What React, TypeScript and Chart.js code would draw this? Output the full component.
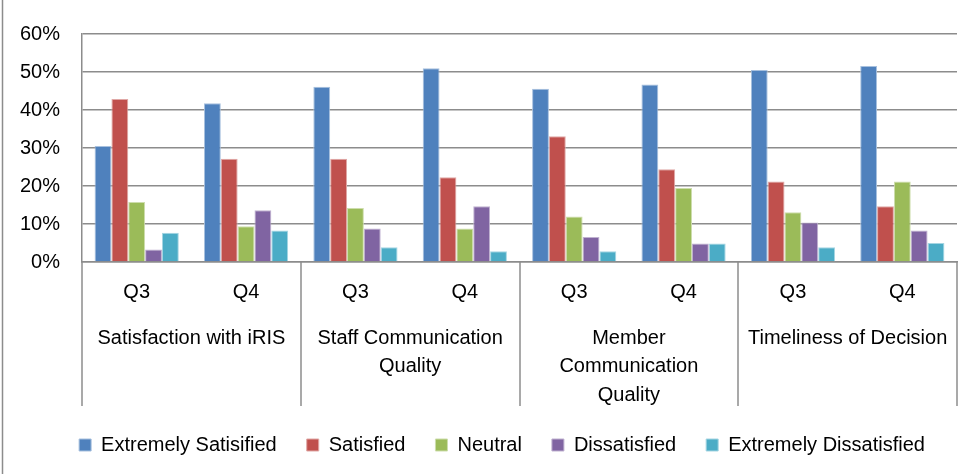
import React, { useEffect, useRef } from "react";
import { Chart, registerables } from "chart.js";

Chart.register(...registerables);

const quarters = ["Q3", "Q4", "Q3", "Q4", "Q3", "Q4", "Q3", "Q4"];
const groupLabels: string[][] = [
  ["Satisfaction with iRIS"],
  ["Staff Communication", "Quality"],
  ["Member", "Communication", "Quality"],
  ["Timeliness of Decision"],
];
const seriesNames = [
  "Extremely Satisified",
  "Satisfied",
  "Neutral",
  "Dissatisfied",
  "Extremely Dissatisfied",
];
const extremelySatisfied = [30.5, 41.8, 46.1, 51.0, 45.6, 46.7, 50.5, 51.6];
const satisfied = [42.9, 27.2, 27.2, 22.3, 33.1, 24.4, 21.2, 14.7];
const neutral = [15.8, 9.4, 14.2, 8.8, 12.0, 19.5, 13.1, 21.2];
const dissatisfied = [3.3, 13.6, 8.8, 14.7, 6.6, 4.9, 10.4, 8.3];
const extremelyDissatisfied = [7.7, 8.3, 3.9, 2.8, 2.8, 4.9, 3.9, 5.0];
const yTicks = [0, 10, 20, 30, 40, 50, 60];

const colors = ["#4F81BD", "#C0504D", "#9BBB59", "#8064A2", "#4BACC6"];
const borders = ["#A7C0DE", "#E0A8A6", "#CDDDAC", "#BFB1D0", "#A5D5E2"];
const GRID = "#8c8c8c";
const FONT = "'Liberation Sans', Arial, sans-serif";

export default function App() {
  const ref = useRef<HTMLCanvasElement | null>(null);

  useEffect(() => {
    document.body.style.margin = "0";
    const canvas = ref.current;
    if (!canvas) return;
    const values = [extremelySatisfied, satisfied, neutral, dissatisfied, extremelyDissatisfied];

    const groupPlugin = {
      id: "groupPlugin",
      afterLayout(chart: any) {
        if (chart.legend) chart.legend.left = 47;
      },
      afterDraw(chart: any) {
        const { ctx, chartArea } = chart;
        const x = chart.scales.x;
        const catW = (chartArea.right - chartArea.left) / quarters.length;
        const bottom = chartArea.bottom + 144;
        ctx.save();
        ctx.strokeStyle = GRID;
        ctx.lineWidth = 1.5;
        for (let i = 0; i <= groupLabels.length; i++) {
          const px = Math.round(chartArea.left + i * 2 * catW);
          ctx.beginPath();
          ctx.moveTo(px, chartArea.bottom);
          ctx.lineTo(px, bottom);
          ctx.stroke();
        }
        // outer chart border (left edge)
        ctx.beginPath();
        ctx.moveTo(2.5, 0);
        ctx.lineTo(2.5, chart.height);
        ctx.stroke();
        ctx.fillStyle = "#000";
        ctx.font = "20px " + FONT;
        ctx.textAlign = "center";
        ctx.textBaseline = "middle";
        groupLabels.forEach((lines, g) => {
          const cx = (x.getPixelForValue(g * 2) + x.getPixelForValue(g * 2 + 1)) / 2;
          lines.forEach((line, j) => {
            ctx.fillText(line, cx, chartArea.bottom + 76 + j * 28.5);
          });
        });
        ctx.restore();
      },
    };

    const chart = new Chart(canvas, {
      type: "bar",
      data: {
        labels: quarters,
        datasets: seriesNames.map((name, i) => ({
          label: name,
          data: values[i],
          backgroundColor: colors[i],
          borderColor: borders[i],
          borderWidth: 1,
          categoryPercentage: 0.77,
          barPercentage: 1.0,
        })),
      },
      options: {
        responsive: false,
        animation: false,
        layout: { padding: { left: 0, right: 23, top: 20, bottom: 9 } },
        plugins: {
          tooltip: { enabled: false },
          legend: {
            position: "bottom",
            labels: {
              boxWidth: 12,
              boxHeight: 12,
              padding: 30,
              color: "#000",
              font: { size: 20, family: FONT },
            },
          },
        },
        scales: {
          x: {
            grid: { display: false, drawTicks: false },
            border: { display: true, color: GRID, width: 1.5 },
            ticks: {
              color: "#000",
              font: { size: 20, family: FONT },
              padding: 18,
              maxRotation: 0,
              autoSkip: false,
            },
            afterFit: (scale: any) => {
              scale.height = 143;
            },
          },
          y: {
            min: 0,
            max: 60,
            afterBuildTicks: (scale: any) => {
              scale.ticks = yTicks.map((v) => ({ value: v }));
            },
            grid: { color: GRID, lineWidth: 1.5, drawTicks: false },
            border: { display: true, color: GRID, width: 1.5 },
            ticks: {
              color: "#000",
              font: { size: 20, family: FONT },
              padding: 22,
              callback: (v: any) => v + "%",
            },
            afterFit: (scale: any) => {
              scale.width = 82;
            },
          },
        },
      },
      plugins: [groupPlugin],
    });
    return () => chart.destroy();
  }, []);

  return (
    <div style={{ width: 980, height: 474, background: "#fff" }}>
      <canvas ref={ref} width={980} height={474} />
    </div>
  );
}
